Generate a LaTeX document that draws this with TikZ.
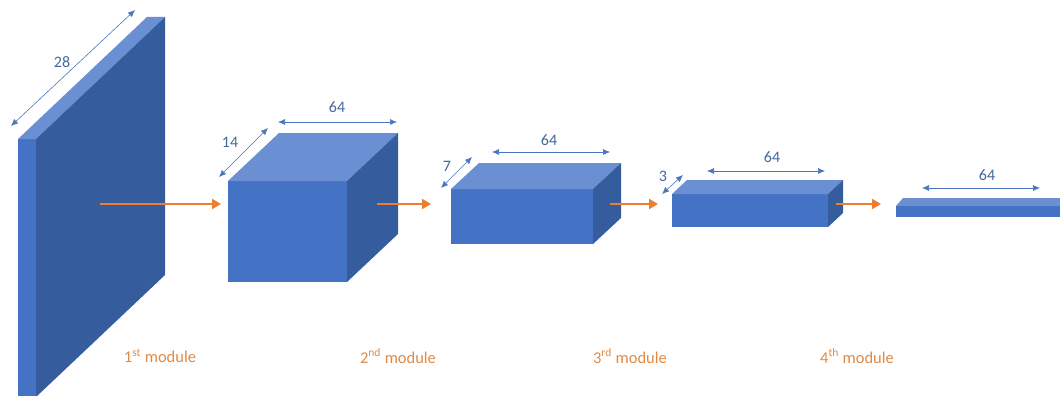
\documentclass[tikz,border=0pt]{standalone}
\usepackage{fontspec}
\setmainfont{Carlito}
\usepackage{xcolor}
\usepackage{tikz}
\usetikzlibrary{arrows.meta}

\definecolor{facefront}{HTML}{4472C4}
\definecolor{faceside}{HTML}{355D9E}
\definecolor{facetop}{HTML}{6A8FD2}
\definecolor{dimblue}{HTML}{4A75BE}
\definecolor{dimtext}{HTML}{44679E}
\definecolor{floworange}{HTML}{ED7D31}
\definecolor{modtext}{HTML}{E08A45}

% x y w h dx dy
\newcommand{\blockbox}[6]{%
  \fill[facefront] (#1,#2) rectangle ({#1+#3},{#2+#4});
  \fill[facetop] (#1,#2) -- ({#1+#5},{#2-#6}) -- ({#1+#3+#5},{#2-#6}) -- ({#1+#3},#2) -- cycle;
  \fill[faceside] ({#1+#3},#2) -- ({#1+#3+#5},{#2-#6}) -- ({#1+#3+#5},{#2+#4-#6}) -- ({#1+#3},{#2+#4}) -- cycle;
}

\tikzset{
  dim/.style={draw=dimblue,line width=0.6pt,{Latex[length=7pt,width=6pt]}-{Latex[length=7pt,width=6pt]}},
  flow/.style={draw=floworange,line width=2.8pt,-{Triangle[length=9pt,width=10pt]}},
  numlabel/.style={text=dimtext,font=\fontsize{16}{18}\selectfont,inner sep=0pt},
  modlabel/.style={text=modtext,font=\fontsize{16.5}{19}\selectfont,inner sep=0pt}
}

\begin{document}
\begin{tikzpicture}[x=1pt,y=-1pt]
    \useasboundingbox (0,0) rectangle (1060,396);
    \clip (0,0) rectangle (1060,396);

    \blockbox{18}{139}{18}{258}{129}{122}
    \blockbox{228}{181}{119}{101}{51}{48}
    \blockbox{451}{189}{142}{55}{28}{26}
    \blockbox{672}{194}{156}{33}{15}{14}
    \blockbox{896}{206}{250}{11}{7}{8}

    \coordinate (d28a) at (11,126);
    \coordinate (d28b) at (135,10);
    \coordinate (d14a) at (219,177);
    \coordinate (d14b) at (268,128);
    \coordinate (w2a) at (278,122);
    \coordinate (w2b) at (397,122);
    \coordinate (d7a) at (441,188);
    \coordinate (d7b) at (472,157);
    \coordinate (w3a) at (492,152);
    \coordinate (w3b) at (610,152);
    \coordinate (d3a) at (662,194);
    \coordinate (d3b) at (683,175);
    \coordinate (w4a) at (707,171);
    \coordinate (w4b) at (825,171);
    \coordinate (w5a) at (922,188);
    \coordinate (w5b) at (1040,188);

    \draw[dim] (d28a) -- (d28b);
    \draw[dim] (d14a) -- (d14b);
    \draw[dim] (w2a) -- (w2b);
    \draw[dim] (d7a) -- (d7b);
    \draw[dim] (w3a) -- (w3b);
    \draw[dim] (d3a) -- (d3b);
    \draw[dim] (w4a) -- (w4b);
    \draw[dim] (w5a) -- (w5b);

    \node[numlabel] (n28) at (62,62) {28};
    \node[numlabel] (n14) at (230,142) {14};
    \node[numlabel] (n64a) at (337,107) {64};
    \node[numlabel] (n7) at (447,166) {7};
    \node[numlabel] (n64b) at (549,140) {64};
    \node[numlabel] (n3) at (663,176) {3};
    \node[numlabel] (n64c) at (772,157) {64};
    \node[numlabel] (n64d) at (987,175) {64};

    \coordinate (f1a) at (100,204);
    \coordinate (f1b) at (221,204);
    \coordinate (f2a) at (377,204);
    \coordinate (f2b) at (431,204);
    \coordinate (f3a) at (610,204);
    \coordinate (f3b) at (658,204);
    \coordinate (f4a) at (836,204);
    \coordinate (f4b) at (881,204);

    \draw[flow] (f1a) -- (f1b);
    \draw[flow] (f2a) -- (f2b);
    \draw[flow] (f3a) -- (f3b);
    \draw[flow] (f4a) -- (f4b);

    \node[modlabel] (m1) at (160,356) {1\textsuperscript{st} module};
    \node[modlabel] (m2) at (398,356) {2\textsuperscript{nd} module};
    \node[modlabel] (m3) at (630,356) {3\textsuperscript{rd} module};
    \node[modlabel] (m4) at (857,356) {4\textsuperscript{th} module};
\end{tikzpicture}
\end{document}
